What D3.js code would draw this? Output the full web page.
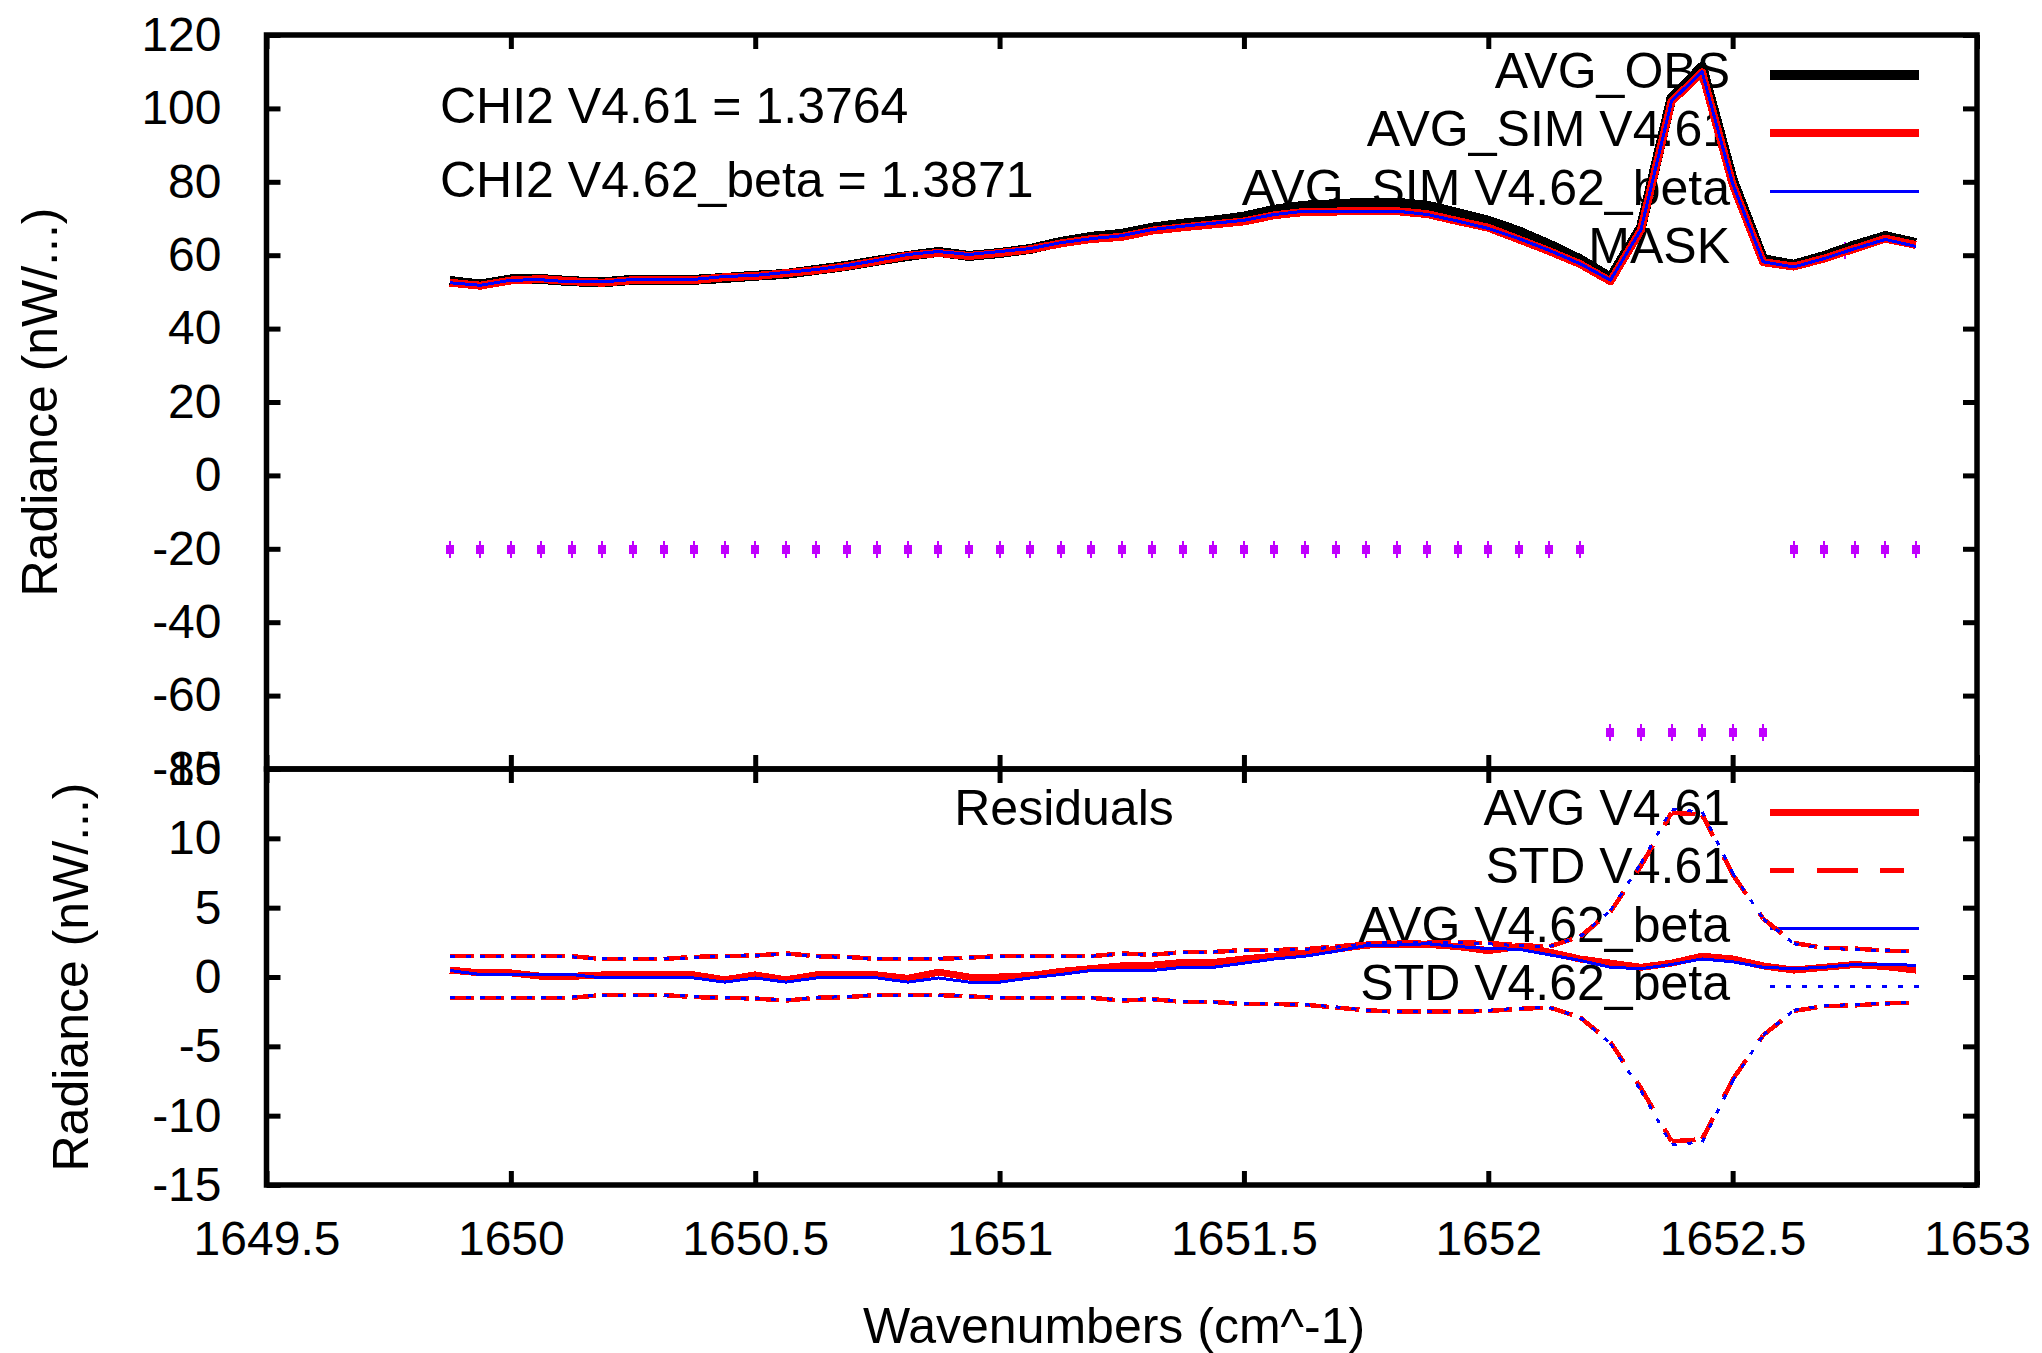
<!DOCTYPE html>
<html>
<head>
<meta charset="utf-8">
<script src="https://cdn.jsdelivr.net/npm/d3@7"></script>
<style>
  body { margin: 0; background: #fff; }
  text { font-family: "Liberation Sans", Arial, sans-serif; fill: #000; }
</style>
</head>
<body>
<div id="chart"></div>
<script>
// spectral channels (cm^-1)
const wavenumbers = [1649.875, 1649.9375, 1650, 1650.0625, 1650.125, 1650.1875, 1650.25, 1650.3125,
  1650.375, 1650.4375, 1650.5, 1650.5625, 1650.625, 1650.6875, 1650.75, 1650.8125, 1650.875,
  1650.9375, 1651, 1651.0625, 1651.125, 1651.1875, 1651.25, 1651.3125, 1651.375, 1651.4375,
  1651.5, 1651.5625, 1651.625, 1651.6875, 1651.75, 1651.8125, 1651.875, 1651.9375, 1652,
  1652.0625, 1652.125, 1652.1875, 1652.25, 1652.3125, 1652.375, 1652.4375, 1652.5, 1652.5625,
  1652.625, 1652.6875, 1652.75, 1652.8125, 1652.875];

// top panel
const avgObs = [53.0, 52.0, 53.4, 53.5, 52.9, 52.6, 53.3, 53.3, 53.3, 53.8, 54.4, 54.9, 56.0, 57.1,
  58.5, 59.8, 60.9, 59.8, 60.6, 61.7, 63.6, 65.0, 65.8, 67.5, 68.6, 69.4, 70.5, 72.4, 73.5, 73.9,
  74.3, 74.3, 73.5, 71.5, 69.4, 66.5, 62.9, 58.9, 53.9, 67.6, 102.9, 111.3, 80.6, 58.9, 57.4,
  59.8, 62.7, 65.2, 63.3];
const avgSimV461 = [52.5, 51.7, 53.1, 53.5, 52.9, 52.5, 53.2, 53.2, 53.2, 54.0, 54.3, 55.1, 55.9,
  57.0, 58.4, 59.9, 60.6, 59.8, 60.6, 61.6, 63.2, 64.4, 65.0, 66.7, 67.6, 68.4, 69.2, 70.9, 71.8,
  71.9, 72.0, 72.0, 71.2, 69.3, 67.5, 64.3, 61.1, 57.6, 52.9, 66.9, 101.9, 109.8, 79.3, 58.1,
  56.9, 59.1, 61.8, 64.5, 62.8];
const avgSimV462beta = [52.5, 51.8, 53.2, 53.3, 52.7, 52.7, 53.4, 53.4, 53.4, 54.2, 54.5, 55.3,
  56.1, 57.2, 58.6, 60.2, 61.0, 60.2, 61.0, 61.8, 63.4, 64.5, 65.3, 67.0, 67.9, 68.7, 69.5, 71.1,
  72.0, 72.0, 72.0, 72.0, 71.1, 69.3, 67.3, 64.5, 61.3, 57.7, 53.2, 67.0, 102.0, 110.0, 79.5,
  58.2, 56.8, 59.1, 61.8, 64.3, 62.4];
const mask = [-20, -20, -20, -20, -20, -20, -20, -20, -20, -20, -20, -20, -20, -20, -20, -20, -20,
  -20, -20, -20, -20, -20, -20, -20, -20, -20, -20, -20, -20, -20, -20, -20, -20, -20, -20, -20,
  -20, -20, -70, -70, -70, -70, -70, -70, -20, -20, -20, -20, -20];

// residuals panel
const resAvgV461 = [0.5, 0.3, 0.3, 0.05, 0.05, 0.15, 0.15, 0.15, 0.15, -0.2, 0.15, -0.2, 0.15, 0.15,
  0.15, -0.1, 0.35, 0.0, 0.0, 0.1, 0.4, 0.6, 0.8, 0.85, 1.05, 1.05, 1.3, 1.5, 1.7, 2.0, 2.3, 2.35,
  2.35, 2.2, 1.9, 2.2, 1.8, 1.3, 1.0, 0.7, 1.0, 1.5, 1.3, 0.8, 0.5, 0.7, 0.9, 0.75, 0.5];
const resStdV461 = [1.5, 1.5, 1.5, 1.5, 1.5, 1.3, 1.3, 1.3, 1.45, 1.5, 1.55, 1.7, 1.5, 1.45, 1.3,
  1.3, 1.3, 1.4, 1.5, 1.5, 1.5, 1.5, 1.7, 1.6, 1.8, 1.8, 1.95, 1.95, 2.0, 2.2, 2.4, 2.5, 2.5, 2.5,
  2.45, 2.3, 2.2, 2.9, 4.7, 8.0, 11.85, 11.7, 7.4, 4.2, 2.45, 2.1, 2.05, 1.9, 1.85];
const resAvgV462beta = [0.47, 0.18, 0.18, 0.18, 0.18, -0.07, -0.07, -0.07, -0.07, -0.37, -0.07,
  -0.37, -0.07, -0.07, -0.07, -0.37, -0.07, -0.37, -0.37, -0.07, 0.18, 0.47, 0.47, 0.47, 0.7, 0.7,
  1.0, 1.3, 1.5, 1.85, 2.27, 2.3, 2.4, 2.2, 2.05, 2.0, 1.6, 1.2, 0.7, 0.6, 0.9, 1.3, 1.1, 0.7,
  0.6, 0.7, 0.9, 0.9, 0.85];
const resStdV462beta = [1.45, 1.45, 1.45, 1.45, 1.45, 1.3, 1.3, 1.3, 1.4, 1.5, 1.55, 1.65, 1.5, 1.4,
  1.3, 1.3, 1.3, 1.4, 1.45, 1.5, 1.5, 1.5, 1.65, 1.6, 1.75, 1.8, 1.9, 1.95, 2.0, 2.15, 2.4, 2.5,
  2.5, 2.5, 2.4, 2.25, 2.2, 2.9, 4.8, 8.2, 12.1, 11.9, 7.5, 4.2, 2.4, 2.05, 2.0, 1.9, 1.8];

const xTicks = [1649.5, 1650, 1650.5, 1651, 1651.5, 1652, 1652.5, 1653];
const yTicksTop = [-80, -60, -40, -20, 0, 20, 40, 60, 80, 100, 120];
const yTicksBot = [-15, -10, -5, 0, 5, 10, 15];
const chiLabels = ["CHI2 V4.61 = 1.3764", "CHI2 V4.62_beta = 1.3871"];

const width = 2042, height = 1353;
const box = { left: 266.5, right: 1977, top: 35, mid: 769, bottom: 1185 };
const fontSize = 50;
const purple = "#c000ff";

const svg = d3.select("#chart")
    .append("svg")
    .attr("width", width)
    .attr("height", height);

const x = d3.scaleLinear().domain([1649.5, 1653]).range([box.left, box.right]);
const yTop = d3.scaleLinear().domain([-80, 120]).range([box.mid, box.top]);
const yBot = d3.scaleLinear().domain([-15, 15]).range([box.bottom, box.mid]);

// gnuplot style frame: inward ticks on all four sides
function drawFrame(y, yTicks, top, bottom, xLabels) {
    const g = svg.append("g");
    g.append("g")
        .attr("transform", `translate(${box.left},0)`)
        .call(d3.axisLeft(y).tickValues(yTicks).tickSizeInner(-14).tickSizeOuter(0)
            .tickPadding(45).tickFormat(d => String(d)));
    g.append("g")
        .attr("transform", `translate(${box.right},0)`)
        .call(d3.axisRight(y).tickValues(yTicks).tickSizeInner(-14).tickSizeOuter(0).tickFormat(""));
    g.append("g")
        .attr("transform", `translate(0,${top})`)
        .call(d3.axisTop(x).tickValues(xTicks).tickSizeInner(-14).tickSizeOuter(0).tickFormat(""));
    g.append("g")
        .attr("transform", `translate(0,${bottom})`)
        .call(d3.axisBottom(x).tickValues(xTicks).tickSizeInner(-14).tickSizeOuter(0)
            .tickPadding(36).tickFormat(xLabels ? (d => String(d)) : ""));

    g.selectAll(".domain").remove();
    g.selectAll(".tick line").attr("stroke", "#000").attr("stroke-width", 5);
    g.selectAll(".tick text")
        .attr("font-family", null)
        .style("font-size", "48px")
        .attr("fill", "#000");

    g.append("rect")
        .attr("x", box.left)
        .attr("y", top)
        .attr("width", box.right - box.left)
        .attr("height", bottom - top)
        .attr("fill", "none")
        .attr("stroke", "#000")
        .attr("stroke-width", 5.5);
}

drawFrame(yTop, yTicksTop, box.top, box.mid, false);
drawFrame(yBot, yTicksBot, box.mid, box.bottom, true);

// axis titles
svg.append("text")
    .attr("transform", `translate(57,${(box.top + box.mid) / 2}) rotate(-90)`)
    .attr("text-anchor", "middle")
    .style("font-size", fontSize + "px")
    .text("Radiance (nW/...)");
svg.append("text")
    .attr("transform", `translate(88,${(box.mid + box.bottom) / 2}) rotate(-90)`)
    .attr("text-anchor", "middle")
    .style("font-size", fontSize + "px")
    .text("Radiance (nW/...)");
svg.append("text")
    .attr("x", 1114)
    .attr("y", 1343)
    .attr("text-anchor", "middle")
    .style("font-size", fontSize + "px")
    .text("Wavenumbers (cm^-1)");

// labels inside the panels
chiLabels.forEach((t, i) => {
    svg.append("text")
        .attr("x", 440)
        .attr("y", 123 + i * 74)
        .style("font-size", fontSize + "px")
        .text(t);
});
svg.append("text")
    .attr("x", 1064)
    .attr("y", 825)
    .attr("text-anchor", "middle")
    .style("font-size", fontSize + "px")
    .text("Residuals");

// keys (drawn before the curves, like gnuplot)
const keyText = 1730, keyX0 = 1770, keyX1 = 1919, rowGap = 58.3;

function keyRow(baseline, label, style) {
    svg.append("text")
        .attr("x", keyText)
        .attr("y", baseline)
        .attr("text-anchor", "end")
        .style("font-size", fontSize + "px")
        .text(label);
    if (style.point) {
        drawMaskPoint(svg, (keyX0 + keyX1) / 2, baseline - 13);
        return;
    }
    svg.append("line")
        .attr("x1", keyX0).attr("x2", keyX1)
        .attr("y1", baseline - 13).attr("y2", baseline - 13)
        .attr("stroke", style.color)
        .attr("stroke-width", style.width)
        .attr("stroke-dasharray", style.dash || null)
        .attr("shape-rendering", "crispEdges");
}

function drawMaskPoint(g, cx, cy) {
    cx = Math.round(cx);
    cy = Math.round(cy);
    g.append("rect")
        .attr("x", cx - 4).attr("y", cy - 4)
        .attr("width", 8).attr("height", 9)
        .attr("fill", purple)
        .attr("shape-rendering", "crispEdges");
    g.append("rect")
        .attr("x", cx - 1).attr("y", cy - 8)
        .attr("width", 2).attr("height", 17)
        .attr("fill", purple)
        .attr("shape-rendering", "crispEdges");
}

const styles = {
    obs: { color: "#000", width: 10 },
    sim461: { color: "#f00", width: 8 },
    sim462: { color: "#00f", width: 3 },
    mask: { point: true },
    avg461: { color: "#f00", width: 7 },
    std461: { color: "#f00", width: 4.5, dash: "24,23,41,22" },
    avg462: { color: "#00f", width: 3 },
    std462: { color: "#00f", width: 3, dash: "5,11" }
};

keyRow(88, "AVG_OBS", styles.obs);
keyRow(88 + rowGap, "AVG_SIM V4.61", styles.sim461);
keyRow(88 + 2 * rowGap, "AVG_SIM V4.62_beta", styles.sim462);
keyRow(88 + 3 * rowGap, "MASK", styles.mask);

keyRow(825, "AVG V4.61", styles.avg461);
keyRow(825 + rowGap, "STD V4.61", styles.std461);
keyRow(825 + 2 * rowGap, "AVG V4.62_beta", styles.avg462);
keyRow(825 + 3 * rowGap, "STD V4.62_beta", styles.std462);

// curves
function solid(values, y, style) {
    const line = d3.line()
        .x((d, i) => x(wavenumbers[i]))
        .y(d => y(d));
    svg.append("path")
        .datum(values)
        .attr("d", line)
        .attr("fill", "none")
        .attr("stroke", style.color)
        .attr("stroke-width", style.width)
        .attr("stroke-linejoin", "round")
        .attr("shape-rendering", "crispEdges");
}

// gnuplot restarts the dash pattern at every vertex, so draw segment by segment
function dashed(values, y, style) {
    const pts = values.map((v, i) => [x(wavenumbers[i]), y(v)]);
    svg.append("g")
        .selectAll("line")
        .data(d3.pairs(pts))
        .join("line")
        .attr("x1", d => d[0][0]).attr("y1", d => d[0][1])
        .attr("x2", d => d[1][0]).attr("y2", d => d[1][1])
        .attr("stroke", style.color)
        .attr("stroke-width", style.width)
        .attr("stroke-dasharray", style.dash)
        .attr("shape-rendering", "crispEdges");
}

solid(avgObs, yTop, styles.obs);
solid(avgSimV461, yTop, styles.sim461);
solid(avgSimV462beta, yTop, styles.sim462);

const maskG = svg.append("g");
mask.forEach((v, i) => drawMaskPoint(maskG, x(wavenumbers[i]), yTop(v)));

solid(resAvgV461, yBot, styles.avg461);
dashed(resStdV461, yBot, styles.std461);
dashed(resStdV461.map(v => -v), yBot, styles.std461);
solid(resAvgV462beta, yBot, styles.avg462);
dashed(resStdV462beta, yBot, styles.std462);
dashed(resStdV462beta.map(v => -v), yBot, styles.std462);
</script>
</body>
</html>
